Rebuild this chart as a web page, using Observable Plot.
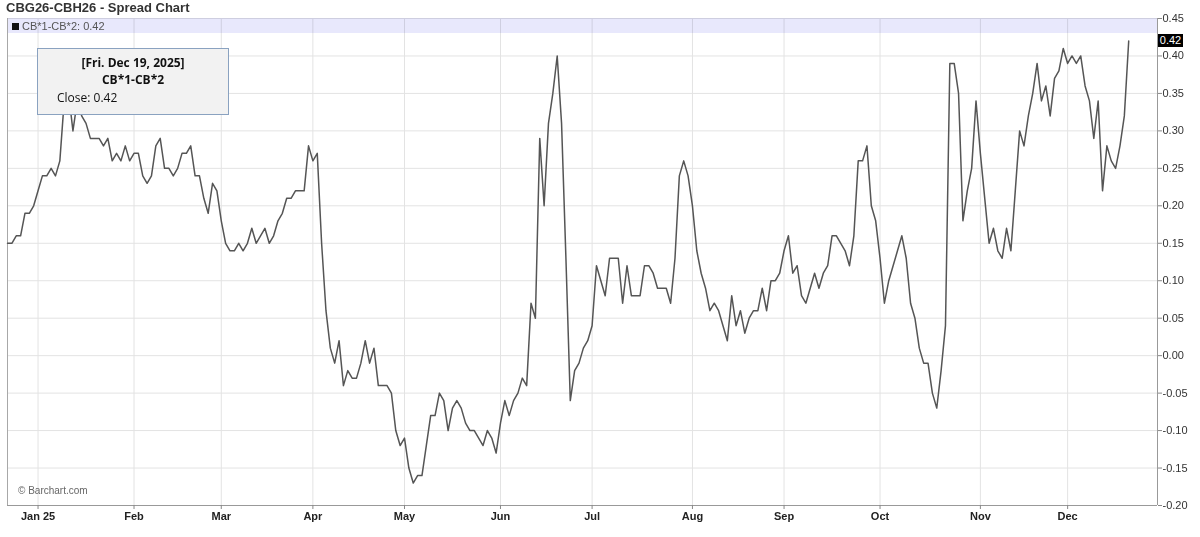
<!DOCTYPE html>
<html>
<head>
<meta charset="utf-8">
<script src="https://cdn.jsdelivr.net/npm/d3@7"></script>
<script src="https://cdn.jsdelivr.net/npm/@observablehq/plot@0.6"></script>
<style>
  html, body { margin: 0; padding: 0; background: #fff; }
  #wrap { position: relative; width: 1200px; height: 537px; overflow: hidden; font-family: "Liberation Sans", Arial, sans-serif; }
  #chart { position: absolute; left: 0; top: 0; }
  #title { position: absolute; left: 6px; top: 0px; font-size: 13px; font-weight: bold; color: #333; line-height: 15px; }
  #band { position: absolute; left: 8px; top: 18px; width: 1149px; height: 15px; background: rgb(232,232,252); mix-blend-mode: multiply; }
  #legend { position: absolute; left: 12px; top: 19px; font-size: 11px; color: #555; line-height: 14px; }
  #legend .sq { display: inline-block; width: 7px; height: 7px; background: #111; margin-right: 3px; vertical-align: 0px; }
  #tip { position: absolute; left: 37px; top: 48px; width: 192px; height: 67px; background: #f2f2f2; border: 1px solid #8aa2c0; box-sizing: border-box; font-family: "Open Sans", sans-serif; font-size: 12px; color: #111; }
  #tip .l1 { position: absolute; left: 0; right: 0; top: 5px; text-align: center; font-weight: bold; }
  #tip .l2 { position: absolute; left: 0; right: 0; top: 22px; text-align: center; font-weight: bold; }
  #tip .l3 { position: absolute; left: 19px; top: 40px; }
  #copy { position: absolute; left: 18px; top: 485px; font-size: 10px; color: #666; }
  #last { position: absolute; left: 1158px; width: 25px; height: 13px; background: #000; color: #fff; font-size: 11px; line-height: 13px; text-align: center; }
  g[aria-label="x-axis tick label"] text { font-weight: bold; }
</style>
</head>
<body>
<div id="wrap">
  <div id="chart"></div>
  <div id="band"></div>
  <div id="title"></div>
  <div id="legend"></div>
  <div id="tip"><div class="l1"></div><div class="l2"></div><div class="l3"></div></div>
  <div id="copy">© Barchart.com</div>
  <div id="last"></div>
</div>
<script>
// ---- data: daily close of the spread, one array per month ----
const titleText = "CBG26-CBH26 - Spread Chart";
const seriesName = "CB*1-CB*2";
const lastDateText = "[Fri. Dec 19, 2025]";

const dec24 = [0.15, 0.15, 0.16, 0.16, 0.19, 0.19, 0.20];
const jan25 = [0.22, 0.24, 0.24, 0.25, 0.24, 0.26, 0.34, 0.35, 0.30, 0.34, 0.32, 0.31, 0.29, 0.29, 0.29, 0.28, 0.29, 0.26, 0.27, 0.26, 0.28, 0.26];
const feb25 = [0.27, 0.27, 0.24, 0.23, 0.24, 0.28, 0.29, 0.25, 0.25, 0.24, 0.25, 0.27, 0.27, 0.28, 0.24, 0.24, 0.21, 0.19, 0.23, 0.22];
const mar25 = [0.18, 0.15, 0.14, 0.14, 0.15, 0.14, 0.15, 0.17, 0.15, 0.16, 0.17, 0.15, 0.16, 0.18, 0.19, 0.21, 0.21, 0.22, 0.22, 0.22, 0.28];
const apr25 = [0.26, 0.27, 0.15, 0.06, 0.01, -0.01, 0.02, -0.04, -0.02, -0.03, -0.03, -0.01, 0.02, -0.01, 0.01, -0.04, -0.04, -0.04, -0.05, -0.10, -0.12];
const may25 = [-0.11, -0.15, -0.17, -0.16, -0.16, -0.12, -0.08, -0.08, -0.05, -0.06, -0.10, -0.07, -0.06, -0.07, -0.09, -0.10, -0.10, -0.11, -0.12, -0.10, -0.11, -0.13];
const jun25 = [-0.09, -0.06, -0.08, -0.06, -0.05, -0.03, -0.04, 0.07, 0.05, 0.29, 0.20, 0.31, 0.35, 0.40, 0.31, 0.13, -0.06, -0.02, -0.01, 0.01, 0.02];
const jul25 = [0.04, 0.12, 0.10, 0.08, 0.13, 0.13, 0.13, 0.07, 0.12, 0.08, 0.08, 0.08, 0.12, 0.12, 0.11, 0.09, 0.09, 0.09, 0.07, 0.13, 0.24, 0.26, 0.24];
const aug25 = [0.20, 0.14, 0.11, 0.09, 0.06, 0.07, 0.06, 0.04, 0.02, 0.08, 0.04, 0.06, 0.03, 0.05, 0.06, 0.06, 0.09, 0.06, 0.10, 0.10, 0.11];
const sep25 = [0.14, 0.16, 0.11, 0.12, 0.08, 0.07, 0.09, 0.11, 0.09, 0.11, 0.12, 0.16, 0.16, 0.15, 0.14, 0.12, 0.16, 0.26, 0.26, 0.28, 0.20, 0.18];
const oct25 = [0.13, 0.07, 0.10, 0.12, 0.14, 0.16, 0.13, 0.07, 0.05, 0.01, -0.01, -0.01, -0.05, -0.07, -0.02, 0.04, 0.39, 0.39, 0.35, 0.18, 0.22, 0.25, 0.34];
const nov25 = [0.27, 0.21, 0.15, 0.17, 0.14, 0.13, 0.17, 0.14, 0.22, 0.30, 0.28, 0.32, 0.35, 0.39, 0.34, 0.36, 0.32, 0.37, 0.38, 0.41];
const dec25 = [0.39, 0.40, 0.39, 0.40, 0.36, 0.34, 0.29, 0.34, 0.22, 0.28, 0.26, 0.25, 0.28, 0.32, 0.42];

const monthLabels = ["Jan 25", "Feb", "Mar", "Apr", "May", "Jun", "Jul", "Aug", "Sep", "Oct", "Nov", "Dec"];
const yTicks = [-0.20, -0.15, -0.10, -0.05, 0.00, 0.05, 0.10, 0.15, 0.20, 0.25, 0.30, 0.35, 0.40, 0.45];

// ---- build table ----
const months = [jan25, feb25, mar25, apr25, may25, jun25, jul25, aug25, sep25, oct25, nov25, dec25];
const values = [...dec24, ...months.flat()];
const data = values.map((v, i) => ({i, v}));
const monthStarts = [];
let acc = dec24.length;
for (const m of months) { monthStarts.push(acc); acc += m.length; }
const labelAt = new Map(monthStarts.map((s, k) => [s, monthLabels[k]]));
const N = values.length;
const last = values[N - 1];
const xMax = N - 1 + 6.6; // right-hand padding of the time axis (in sessions)

const chart = Plot.plot({
  width: 1200,
  height: 537,
  marginLeft: 7,
  marginRight: 43,
  marginTop: 18,
  marginBottom: 32,
  style: {background: "white", fontFamily: "'Liberation Sans', Arial, sans-serif", fontSize: "11px", color: "#333"},
  x: {domain: [0, xMax], axis: null},
  y: {domain: [-0.20, 0.45], axis: null},
  marks: [
    Plot.gridY(yTicks, {stroke: "#e3e3e3", strokeOpacity: 1}),
    Plot.gridX(monthStarts, {stroke: "#e3e3e3", strokeOpacity: 1}),
    Plot.ruleX([0], {stroke: "#a8a8a8"}),
    Plot.ruleX([xMax], {stroke: "#999"}),
    Plot.ruleY([-0.20], {stroke: "#999"}),
    Plot.axisY(yTicks, {anchor: "right", label: null, tickSize: 4, tickPadding: 1, stroke: "#888", fill: "#333", fontSize: 11, tickFormat: d => d.toFixed(2)}),
    Plot.axisX(monthStarts, {anchor: "bottom", label: null, tickSize: 4, tickPadding: 3, stroke: "#888", fill: "#222", fontSize: 11, fontWeight: "bold", tickFormat: d => labelAt.get(d)}),
    Plot.line(data, {x: "i", y: "v", stroke: "#555", strokeWidth: 1.5})
  ]
});
document.getElementById("chart").appendChild(chart);

// ---- overlays ----
document.getElementById("title").textContent = titleText;
document.getElementById("legend").innerHTML = '<span class="sq"></span>' + seriesName + ": " + last.toFixed(2);
document.querySelector("#tip .l1").textContent = lastDateText;
document.querySelector("#tip .l2").textContent = seriesName;
document.querySelector("#tip .l3").textContent = "Close: " + last.toFixed(2);
const lastEl = document.getElementById("last");
lastEl.textContent = last.toFixed(2);
lastEl.style.top = (chart.scale("y").apply(last) - 6.5) + "px";
</script>
</body>
</html>
